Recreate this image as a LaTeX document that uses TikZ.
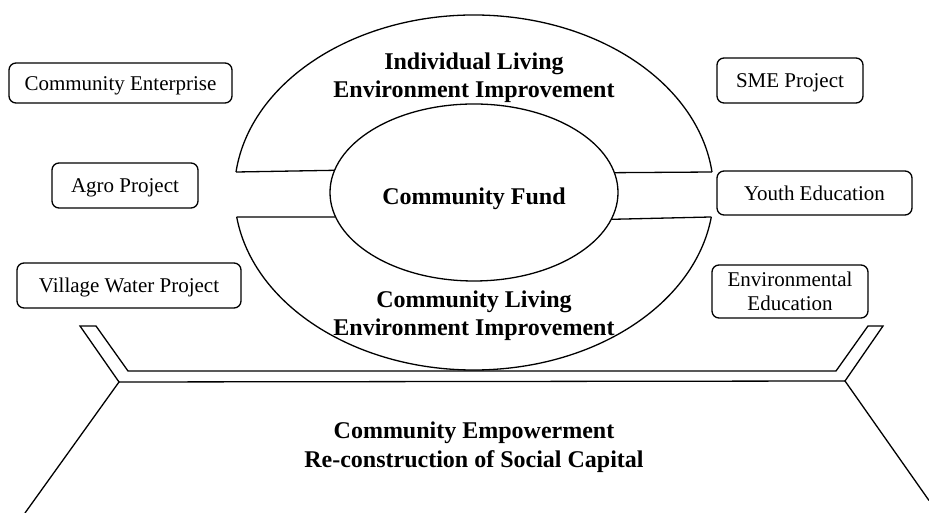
\documentclass[tikz,border=0pt]{standalone}
\usepackage{fontspec}
\setmainfont{Liberation Serif}
\usetikzlibrary{shapes.geometric,calc}
\begin{document}
\begin{tikzpicture}[x=1pt,y=1pt,
  line width=1.3pt,
  box/.style={draw,rounded corners=7pt,inner sep=0pt,font=\fontsize{21}{24.5}\selectfont,align=center},
  oneline/.style={text height=15pt,text depth=0pt},
  bold/.style={font=\fontsize{24}{28.5}\selectfont\bfseries,align=center,inner sep=0pt}]
\useasboundingbox (0,0) rectangle (929,513);
% outer ellipse (two arcs)
\coordinate (oc) at (474,320.5);
\coordinate (otl) at ($(oc)+(173.37:239.6 and 177.5)$);
\coordinate (otr) at ($(oc)+(6.63:239.6 and 177.5)$);
\coordinate (obl) at ($(oc)+(187.93:239.6 and 177.5)$);
\coordinate (obr) at ($(oc)+(352.07:239.6 and 177.5)$);
\draw (otl) arc[start angle=173.37, end angle=6.63, x radius=239.6, y radius=177.5];
\draw (obl) arc[start angle=187.93, end angle=352.07, x radius=239.6, y radius=177.5];
% inner ellipse
\node[draw,ellipse,minimum width=288,minimum height=177,inner sep=0pt,
  text height=23.6pt,text depth=0pt,
  font=\fontsize{24}{28}\selectfont\bfseries] (fund) at (474,320.5) {Community Fund};
% bands
\draw (otl) -- (fund.171.68);
\draw (obl) -- (fund.190.04);
\draw (otr) -- (fund.8.32);
\draw (obr) -- (fund.349.96);
% ring labels
\node[bold] (ind) at (474,435.5) {Individual Living\\Environment Improvement};
\node[bold] (com) at (474,197.5) {Community Living\\Environment Improvement};
% boxes
\node[box,oneline,minimum width=223,minimum height=40] (ce) at (120.5,430) {Community Enterprise};
\node[box,oneline,minimum width=146,minimum height=45] (agro) at (125,327.5) {Agro Project};
\node[box,oneline,minimum width=224,minimum height=45] (vw) at (129,227.5) {Village Water Project};
\node[box,oneline,minimum width=146,minimum height=45] (sme) at (790,432.5) {SME Project};
\node[box,oneline,minimum width=195,minimum height=44] (youth) at (814.5,320) {Youth Education};
\node[box,minimum width=156,minimum height=53] (env) at (790,221.5) {Environmental\\Education};
% platform
\coordinate (p1) at (80,187);
\coordinate (p2) at (96,187);
\coordinate (p3) at (128,142);
\coordinate (p4) at (836,142);
\coordinate (p5) at (868,187);
\coordinate (p6) at (883,187);
\coordinate (p7) at (845,132);
\coordinate (p8) at (119,131);
\coordinate (p9) at (25,0);
\coordinate (p10) at (929,12.5);
\draw[line join=miter] (p9) -- (p8) -- (p1) -- (p2) -- (p3) -- (p4) -- (p5) -- (p6) -- (p7) -- (p10);
\draw (p8) -- (p7);
\node[bold] (emp) at (474,66) {Community Empowerment\\Re-construction of Social Capital};
\end{tikzpicture}
\end{document}
